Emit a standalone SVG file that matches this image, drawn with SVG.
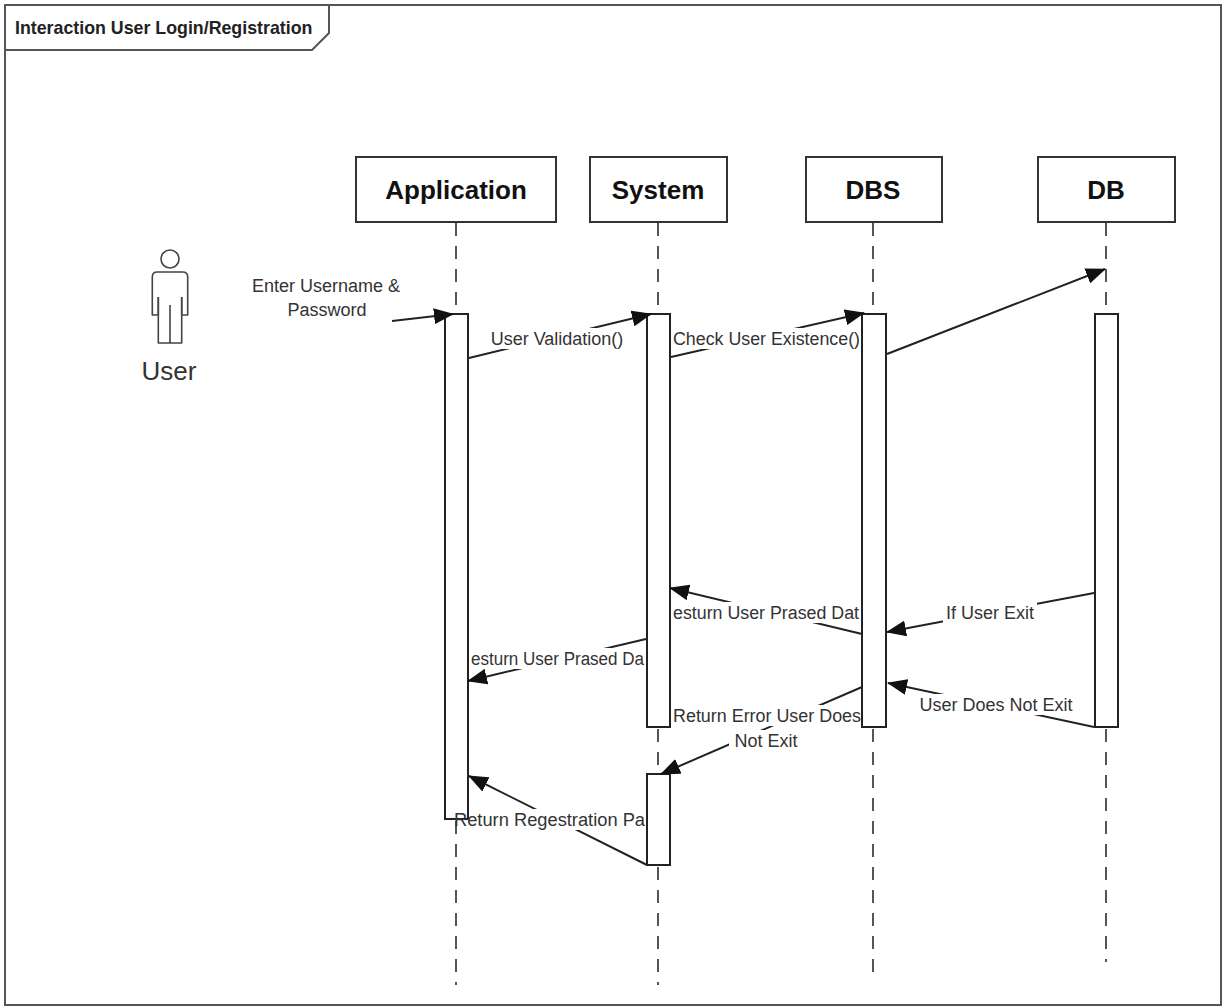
<svg xmlns="http://www.w3.org/2000/svg" width="1225" height="1008" viewBox="0 0 1225 1008">
<defs>
<marker id="arrow" markerUnits="userSpaceOnUse" viewBox="0 0 20 16" refX="19" refY="8" markerWidth="20" markerHeight="16" orient="auto">
<path d="M0,0 L20,8 L0,16 Z" fill="#111"/>
</marker>
</defs>
<style>
.frame{fill:none;stroke:#555;stroke-width:2}
.head{fill:#fff;stroke:#333;stroke-width:2}
.headtxt{font-family:"Liberation Sans",Arial,sans-serif;font-weight:bold;font-size:26px;fill:#111;text-anchor:middle}
.life{stroke:#555;stroke-width:2;stroke-dasharray:13 10;fill:none}
.bar{fill:#fff;stroke:#222;stroke-width:2}
.msg{stroke:#222;stroke-width:2;fill:none;marker-end:url(#arrow)}
.lbl{font-family:"Liberation Sans",Arial,sans-serif;font-size:18px;fill:#333}
.mid{text-anchor:middle}
.bg{fill:#fff}
.actor{fill:none;stroke:#444;stroke-width:1.6;stroke-linejoin:round}
</style>
<rect width="1225" height="1008" fill="#fff"/>
<g id="frame">
<rect class="frame" x="5" y="5" width="1216" height="1000"/>
<path class="frame" d="M5,50 L312,50 L329,33 L329,5"/>
<text x="15" y="34" font-family="Liberation Sans, Arial, sans-serif" font-weight="bold" font-size="17.8" fill="#222">Interaction User Login/Registration</text>
</g>
<g id="actor-user">
<circle class="actor" cx="170" cy="259" r="9"/>
<path class="actor" d="M158.3,297 L158.3,315 L152.3,315 L152.3,277 Q152.3,272 157.3,272 L182.7,272 Q187.7,272 187.7,277 L187.7,315 L181.7,315 L181.7,297"/>
<path class="actor" d="M158.3,297 L158.3,343 L181.7,343 L181.7,297 M170,305 L170,343"/>
<text x="169" y="380" font-family="Liberation Sans, Arial, sans-serif" font-size="26" fill="#333" text-anchor="middle">User</text>
</g>
<g id="lifeline-application">
<line class="life" x1="456" y1="223" x2="456" y2="985"/>
<rect class="head" x="356" y="157" width="200" height="65"/>
<text class="headtxt" x="456" y="199">Application</text>
<rect class="bar" x="445" y="314" width="23" height="505"/>
</g>
<g id="lifeline-system">
<line class="life" x1="658" y1="223" x2="658" y2="985"/>
<rect class="head" x="590" y="157" width="137" height="65"/>
<text class="headtxt" x="658" y="199">System</text>
<rect class="bar" x="647" y="314" width="23" height="413"/>
<rect class="bar" x="647" y="774" width="23" height="91"/>
</g>
<g id="lifeline-dbs">
<line class="life" x1="873" y1="223" x2="873" y2="973"/>
<rect class="head" x="806" y="157" width="136" height="65"/>
<text class="headtxt" x="873" y="199">DBS</text>
<rect class="bar" x="862" y="314" width="24" height="413"/>
</g>
<g id="lifeline-db">
<line class="life" x1="1106" y1="223" x2="1106" y2="962"/>
<rect class="head" x="1038" y="157" width="137" height="65"/>
<text class="headtxt" x="1106" y="199">DB</text>
<rect class="bar" x="1095" y="314" width="23" height="413"/>
</g>
<g id="connectors">
<line class="msg" x1="392" y1="321" x2="453" y2="314"/>
<line class="msg" x1="469" y1="358" x2="651" y2="314"/>
<line class="msg" x1="671" y1="357" x2="864" y2="313"/>
<line class="msg" x1="887" y1="354" x2="1105" y2="269"/>
<line class="msg" x1="1094" y1="593" x2="887" y2="632"/>
<line class="msg" x1="862" y1="634" x2="670" y2="588"/>
<line class="msg" x1="646" y1="639" x2="468" y2="681"/>
<line class="msg" x1="1094" y1="727" x2="888" y2="683"/>
<line class="msg" x1="862" y1="687" x2="661" y2="774"/>
<line class="msg" x1="647" y1="865" x2="469" y2="776"/>
<g id="labels">
<text class="lbl mid" x="326" y="292">Enter Username &amp;</text>
<text class="lbl mid" x="327" y="316">Password</text>
<rect class="bg" x="485" y="328" width="145" height="21"/>
<text class="lbl mid" x="557" y="345">User Validation()</text>
<rect class="bg" x="672" y="328" width="189" height="21"/>
<text class="lbl" x="673" y="345" textLength="187" lengthAdjust="spacingAndGlyphs">Check User Existence()</text>
<rect class="bg" x="943" y="602" width="94" height="21"/>
<text class="lbl mid" x="990" y="619">If User Exit</text>
<rect class="bg" x="672" y="602" width="189" height="21"/>
<text class="lbl" x="673" y="619" textLength="186" lengthAdjust="spacingAndGlyphs">esturn User Prased Dat</text>
<rect class="bg" x="470" y="648" width="176" height="21"/>
<text class="lbl" x="471" y="665" textLength="173" lengthAdjust="spacingAndGlyphs">esturn User Prased Da</text>
<rect class="bg" x="917" y="694" width="158" height="21"/>
<text class="lbl mid" x="996" y="711">User Does Not Exit</text>
<rect class="bg" x="672" y="705" width="189" height="21"/>
<text class="lbl" x="673" y="722" textLength="188" lengthAdjust="spacingAndGlyphs">Return Error User Does</text>
<rect class="bg" x="729" y="730" width="75" height="22"/>
<text class="lbl mid" x="766" y="747">Not Exit</text>
<rect class="bg" x="469" y="809" width="177" height="21"/>
<text class="lbl" x="454" y="826" textLength="191" lengthAdjust="spacingAndGlyphs">Return Regestration Pa</text>
</g>
</g>
</svg>
